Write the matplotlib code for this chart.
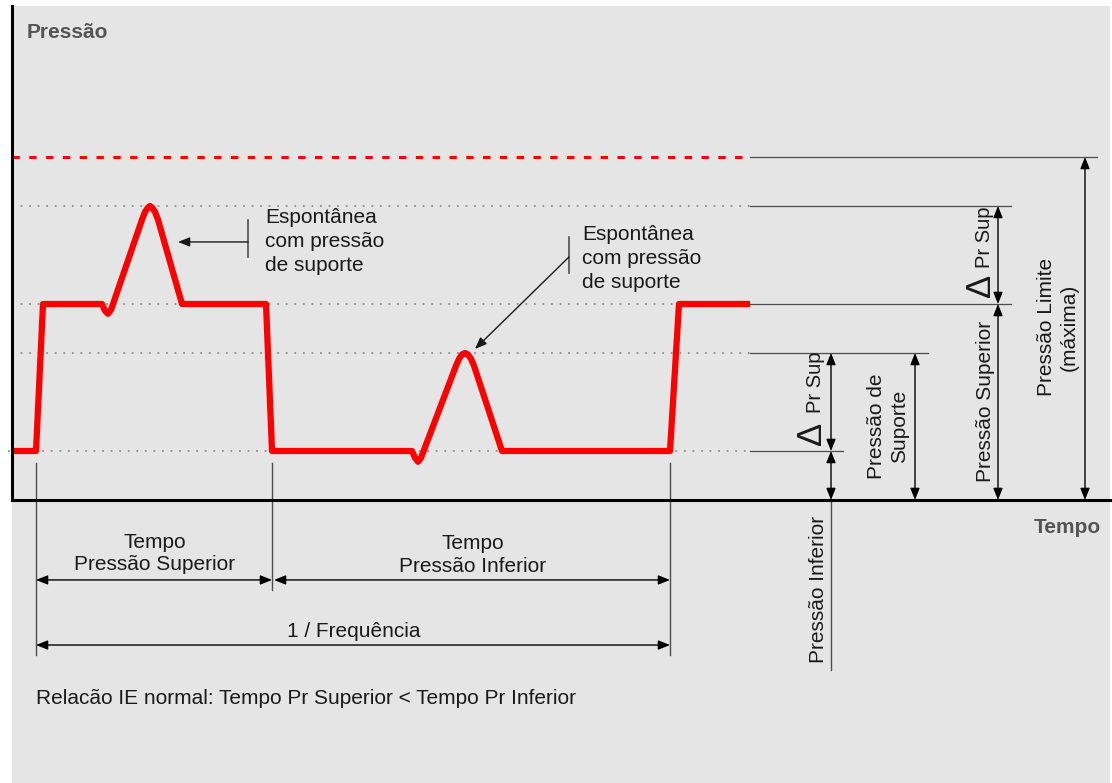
import matplotlib.pyplot as plt
from matplotlib.patches import Rectangle

# Diagram units: time in s (x), pressure in cmH2O (y)
P_INF = 5
P_SUPORTE = 15
P_SUP = 20
P_SUP_PICO = 30
P_LIM = 35

# pressure curve
curve_t = [0.00, 0.24, 0.31, 0.90, 0.93, 0.96, 0.99, 1.30, 1.33, 1.36, 1.38,
           1.40, 1.43, 1.46, 1.70, 2.54, 2.60, 4.00, 4.03, 4.06, 4.09, 4.44,
           4.47, 4.50, 4.53, 4.56, 4.59, 4.62, 4.90, 6.58, 6.67, 7.38]
curve_p = [5.0, 5.0, 20.0, 20.0, 19.3, 19.0, 19.4, 28.6, 29.4, 29.85, 30.0,
           29.85, 29.4, 28.6, 20.0, 20.0, 5.0, 5.0, 4.3, 3.9, 4.3, 13.7,
           14.4, 14.85, 15.0, 14.85, 14.4, 13.7, 5.0, 5.0, 20.0, 20.0]

T_FIM = 7.38
t_marcas = [0.24, 2.60, 6.58]

# level guide lines: (level, end of solid extension)
niveis = [P_INF, P_SUPORTE, P_SUP, P_SUP_PICO, P_LIM]
fim_niveis = [8.31, 9.16, 9.99, 9.99, 10.85]

# vertical dimension arrows: (x, p_bottom, p_top)
cotas = [(8.19, P_INF, P_SUPORTE), (8.19, 0, P_INF), (9.03, 0, P_SUPORTE),
         (9.86, P_SUP, P_SUP_PICO), (9.86, 0, P_SUP), (10.73, 0, P_LIM)]

TXT = '#1a1a1a'
FONT = 'Liberation Sans'
FS = 15

plt.rcParams['font.family'] = [FONT, 'DejaVu Sans']

fig = plt.figure(figsize=(11.12, 7.83), dpi=100)
ax = fig.add_axes([0, 0, 1, 1])
ax.set_xlim(-0.12, 11.0)
ax.set_ylim(-28.88, 51.02)
ax.axis('off')


def seta(x0, y0, x1, y1, estilo='<|-|>', cor='black', lw=1.0):
    ax.annotate('', xy=(x1, y1), xytext=(x0, y0),
                arrowprops=dict(arrowstyle=estilo + ',head_length=0.7,head_width=0.28',
                                mutation_scale=10, color=cor, lw=lw,
                                shrinkA=0, shrinkB=0))


# background panel
ax.add_patch(Rectangle((0, -28.88), 10.98, 50.4 + 28.88, facecolor='#e5e5e5',
                       edgecolor='none', zorder=0))

# dotted guides + solid extensions
for nivel, fim in zip(niveis, fim_niveis):
    if nivel != P_LIM:
        x_ini = -0.04 if nivel == P_INF else 0
        ax.plot([x_ini, T_FIM], [nivel, nivel], color='#808080', lw=1.1,
                linestyle=(0, (1.2, 4.4)), zorder=1)
    ax.plot([T_FIM, fim], [nivel, nivel], color='#4d4d4d', lw=0.9, zorder=1)

# pressure limit
ax.plot([0, T_FIM], [P_LIM, P_LIM], color='#ff0000', lw=2.2,
        linestyle=(0, (2.4, 3.1)), zorder=2)

# pressure curve
ax.plot(curve_t, curve_p, color='#ff0000', lw=4.5, solid_joinstyle='round',
        solid_capstyle='butt', zorder=3)

# axes
ax.plot([0, 0], [0, 50.4], color='black', lw=2.2, zorder=4)
ax.plot([0, 11.0], [0, 0], color='black', lw=2.2, zorder=4)
ax.text(0.15, 47.75, 'Pressão', fontsize=FS, fontweight='bold', color='#555555',
        ha='left', va='center')
ax.text(10.89, -2.76, 'Tempo', fontsize=FS, fontweight='bold', color='#555555',
        ha='right', va='center')

# time markers and horizontal dimensions
ax.plot([t_marcas[0]] * 2, [3.8, -15.8], color='#4d4d4d', lw=1.0, zorder=1)
ax.plot([t_marcas[1]] * 2, [3.8, -9.2], color='#4d4d4d', lw=1.0, zorder=1)
ax.plot([t_marcas[2]] * 2, [3.8, -15.8], color='#4d4d4d', lw=1.0, zorder=1)
seta(t_marcas[0], -8.16, t_marcas[1], -8.16)
seta(t_marcas[1] + 0.02, -8.16, t_marcas[2], -8.16)
seta(t_marcas[0], -14.8, t_marcas[2], -14.8)
ax.text(1.43, -5.46, 'Tempo\nPressão Superior', fontsize=FS, color=TXT,
        ha='center', va='center', linespacing=1.21)
ax.text(4.605, -5.61, 'Tempo\nPressão Inferior', fontsize=FS, color=TXT,
        ha='center', va='center', linespacing=1.21)
ax.text(3.42, -13.37, '1 / Frequência', fontsize=FS, color=TXT,
        ha='center', va='center')

# vertical dimensions
for x, p0, p1 in cotas:
    seta(x, p0, x, p1)
ax.plot([8.19, 8.19], [0, -17.3], color='#4d4d4d', lw=1.0, zorder=1)

ax.text(8.06, -9.08, 'Pressão Inferior', fontsize=FS, color=TXT, rotation=90,
        ha='center', va='center')
ax.text(8.76, 7.55, 'Pressão de\nSuporte', fontsize=FS, color=TXT, rotation=90,
        ha='center', va='center', linespacing=1.21)
ax.text(9.73, 10.1, 'Pressão Superior', fontsize=FS, color=TXT, rotation=90,
        ha='center', va='center')
ax.text(10.46, 17.65, 'Pressão Limite\n(máxima)', fontsize=FS, color=TXT,
        rotation=90, ha='center', va='center', linespacing=1.27)

# ΔPr Sup labels
for xb, p_delta, p_txt in [(8.09, 5.6, 8.88), (9.78, 20.7, 23.67)]:
    ax.text(xb, p_delta, 'Δ', fontsize=25, color=TXT, rotation=90,
            rotation_mode='anchor', ha='left', va='baseline')
    ax.text(xb, p_txt, 'Pr Sup', fontsize=14.5, color=TXT,
            rotation=90, rotation_mode='anchor', ha='left', va='baseline')

# spontaneous breath callouts
ax.plot([2.36, 2.36], [24.8, 28.57], color='#4d4d4d', lw=1.2)
seta(2.36, 26.33, 1.66, 26.33, estilo='-|>', cor='#1a1a1a')
ax.text(2.53, 26.38, 'Espontânea\ncom pressão\nde suporte', fontsize=FS,
        color=TXT, ha='left', va='center', linespacing=1.33)

ax.plot([5.57, 5.57], [23.16, 26.84], color='#4d4d4d', lw=1.2)
seta(5.57, 24.8, 4.63, 15.41, estilo='-|>', cor='#1a1a1a')
ax.text(5.70, 24.64, 'Espontânea\ncom pressão\nde suporte', fontsize=FS,
        color=TXT, ha='left', va='center', linespacing=1.33)

ax.text(0.24, -20.3, 'Relacão IE normal: Tempo Pr Superior < Tempo Pr Inferior',
        fontsize=FS, color=TXT, ha='left', va='center')

fig.savefig('out.png', dpi=100, facecolor='white')
